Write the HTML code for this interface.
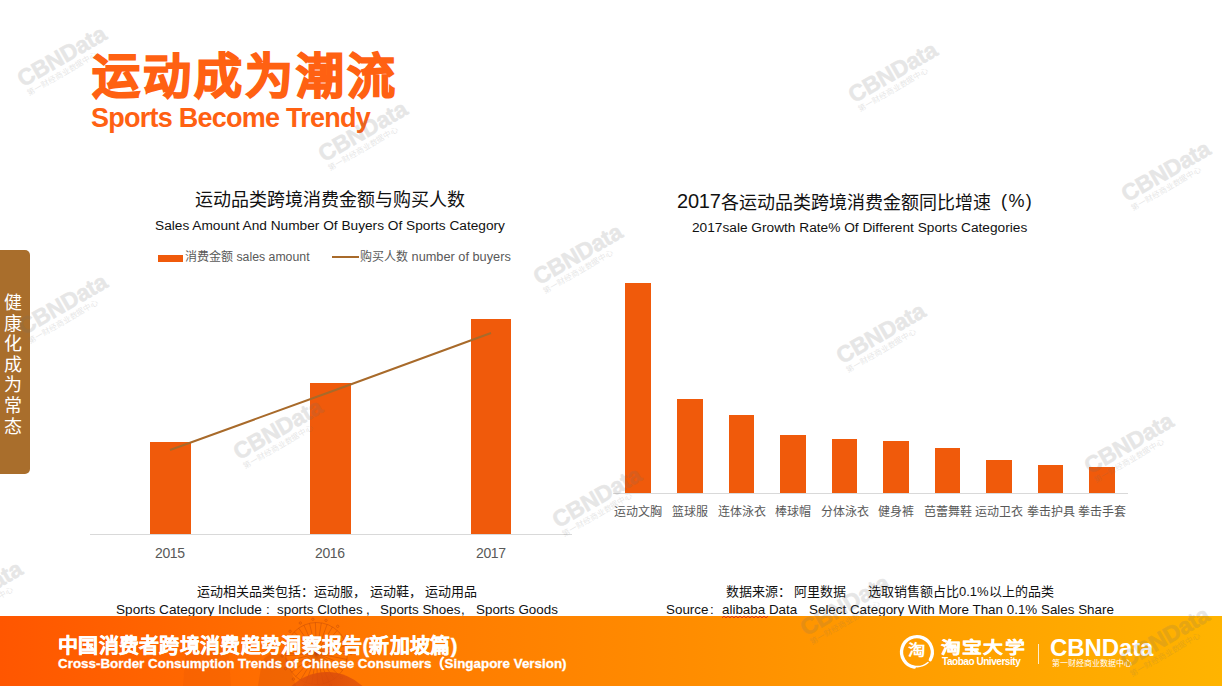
<!DOCTYPE html>
<html lang="zh-CN"><head><meta charset="utf-8">
<style>
*{margin:0;padding:0;box-sizing:border-box}
html,body{width:1222px;height:686px;overflow:hidden;background:#fff}
body{position:relative;font-family:"Liberation Sans",sans-serif;color:#000}
.a{position:absolute;white-space:nowrap}
.title-cn{left:92px;top:47px;font-size:48px;font-weight:bold;color:#FF6112;line-height:60px;letter-spacing:3px;-webkit-text-stroke:1.6px #FF6112}
.title-en{left:91px;top:103px;font-size:27px;font-weight:bold;color:#FF6112;line-height:30px;letter-spacing:-0.75px}
.side{left:0;top:250px;width:30px;height:224px;background:#A96E2C;border-radius:0 5px 5px 0}
.side-t{left:3px;top:293px;width:19px;font-size:18px;line-height:20.6px;color:#fff;white-space:normal;text-align:center}
.bar{position:absolute;background:#F05A0B}
.ct{font-size:18px;color:#111;line-height:22px}
.cs{font-size:13.7px;color:#111;line-height:16px}
.lg{font-size:12px;color:#595959;line-height:16px}
.yr{font-size:14px;color:#595959;line-height:16px;letter-spacing:-0.4px}
.cat{font-size:12px;color:#595959;line-height:16px;width:80px;text-align:center}
.note{font-size:13px;color:#111;line-height:16px}
.ne{font-size:13.4px;color:#111;line-height:16px}
.footer{left:0;top:616px;width:1222px;height:70px;background:linear-gradient(90deg,#FF5600 0%,#FF7700 30%,#FF8F00 59%,#FFB400 100%);overflow:hidden}
.f-cn{left:58px;top:634px;font-size:20px;letter-spacing:0.3px;font-weight:bold;color:#fff;line-height:24px;-webkit-text-stroke:0.4px #fff}
.f-en{left:58px;top:656px;font-size:13.4px;font-weight:bold;color:#fff;line-height:15px;-webkit-text-stroke:0.3px #fff}
.wm{position:absolute;width:0;height:0;transform:rotate(-30deg);opacity:0.17}
.wm .w1{position:absolute;left:-49px;top:-14px;width:100px;font-size:23px;font-weight:bold;line-height:26px;color:#6e6e6e;-webkit-text-stroke:0.6px #6e6e6e;letter-spacing:-0.2px}
.wm .w2{position:absolute;left:-48px;top:9.5px;width:90px;font-size:7.8px;line-height:10px;color:#6e6e6e;white-space:nowrap}
</style></head>
<body>

<div class="a title-cn">运动成为潮流</div>
<div class="a title-en">Sports Become Trendy</div>

<div class="a side"></div>
<div class="a side-t">健康化成为常态</div>

<!-- left chart -->
<div class="a ct" style="left:195px;top:189px">运动品类跨境消费金额与购买人数</div>
<div class="a cs" style="left:155px;top:218px">Sales Amount And Number Of Buyers Of Sports Category</div>
<div class="a" style="left:158px;top:255px;width:25px;height:7px;background:#F05A0B"></div>
<div class="a lg" style="left:185px;top:249px">消费金额<span style="font-size:12.3px"> sales amount</span></div>
<div class="a" style="left:332px;top:256px;width:27px;height:2px;background:#A86A2A"></div>
<div class="a lg" style="left:360px;top:249px">购买人数<span style="font-size:12.75px"> number of buyers</span></div>

<div class="a" style="left:90px;top:534px;width:482px;height:1px;background:#D9D9D9"></div>
<div class="bar" style="left:150px;top:442px;width:41px;height:92px"></div>
<div class="bar" style="left:310px;top:383px;width:41px;height:151px"></div>
<div class="bar" style="left:471px;top:319px;width:40px;height:215px"></div>
<svg class="a" style="left:0;top:0" width="1222" height="686"><polyline points="170,450 330,392 491,333" fill="none" stroke="#A86A2A" stroke-width="2"/></svg>
<div class="a yr" style="left:155px;top:545px">2015</div>
<div class="a yr" style="left:315px;top:545px">2016</div>
<div class="a yr" style="left:476px;top:545px">2017</div>

<div class="a note" style="left:197px;top:584px">运动相关品类包括：运动服， 运动鞋， 运动用品</div>
<div class="a ne" style="left:116px;top:602px;font-size:13.6px">Sports Category Include</div>
<div class="a ne" style="left:266px;top:602px">:</div>
<div class="a ne" style="left:277px;top:602px">sports Clothes</div>
<div class="a ne" style="left:366px;top:602px">,</div>
<div class="a ne" style="left:380px;top:602px">Sports Shoes</div>
<div class="a ne" style="left:461px;top:602px">,</div>
<div class="a ne" style="left:476px;top:602px">Sports Goods</div>

<!-- right chart -->
<div class="a ct" style="left:677px;top:190px;font-size:20px;letter-spacing:-0.2px">2017</div>
<div class="a ct" style="left:721px;top:192px">各运动品类跨境消费金额同比增速</div>
<div class="a ct" style="left:1001px;top:190px;letter-spacing:1.4px">(%)</div>
<div class="a cs" style="left:692px;top:220px">2017sale Growth Rate% Of Different Sports Categories</div>
<div class="a" style="left:613px;top:493px;width:515px;height:1px;background:#D9D9D9"></div>
<div class="bar" style="left:625px;top:283px;width:26px;height:210px"></div>
<div class="bar" style="left:677px;top:399px;width:26px;height:94px"></div>
<div class="bar" style="left:729px;top:415px;width:25px;height:78px"></div>
<div class="bar" style="left:780px;top:435px;width:26px;height:58px"></div>
<div class="bar" style="left:832px;top:439px;width:25px;height:54px"></div>
<div class="bar" style="left:883px;top:441px;width:26px;height:52px"></div>
<div class="bar" style="left:935px;top:448px;width:25px;height:45px"></div>
<div class="bar" style="left:986px;top:460px;width:26px;height:33px"></div>
<div class="bar" style="left:1038px;top:465px;width:25px;height:28px"></div>
<div class="bar" style="left:1089px;top:467px;width:26px;height:26px"></div>

<div class="a cat" style="left:598px;top:504px">运动文胸</div>
<div class="a cat" style="left:650px;top:504px">篮球服</div>
<div class="a cat" style="left:701.5px;top:504px">连体泳衣</div>
<div class="a cat" style="left:753px;top:504px">棒球帽</div>
<div class="a cat" style="left:804.5px;top:504px">分体泳衣</div>
<div class="a cat" style="left:856px;top:504px">健身裤</div>
<div class="a cat" style="left:907.5px;top:504px">芭蕾舞鞋</div>
<div class="a cat" style="left:959px;top:504px">运动卫衣</div>
<div class="a cat" style="left:1010.5px;top:504px">拳击护具</div>
<div class="a cat" style="left:1062px;top:504px">拳击手套</div>

<div class="a note" style="left:726px;top:584px">数据来源：</div>
<div class="a note" style="left:794px;top:584px">阿里数据</div>
<div class="a note" style="left:868px;top:584px">选取销售额占比0.1%以上的品类</div>
<div class="a ne" style="left:666px;top:602px">Source</div>
<div class="a ne" style="left:710px;top:602px">:</div>
<div class="a ne" style="left:722px;top:602px">alibaba Data</div>
<div class="a ne" style="left:809px;top:602px">Select Category With More Than 0.1% Sales Share</div>


<!-- footer -->
<div class="a footer"></div>
<svg class="a" style="left:0;top:616px" width="620" height="70" viewBox="0 616 620 70">
<g fill="none" stroke="#B8440A" stroke-opacity="0.5" stroke-width="0.8">
<circle cx="316.5" cy="653.5" r="31"/>
<line x1="347.5" y1="653.5" x2="285.5" y2="653.5"/><line x1="346.9" y1="659.4" x2="286.1" y2="647.6"/><line x1="345.2" y1="665.1" x2="287.8" y2="641.9"/><line x1="342.5" y1="670.4" x2="290.5" y2="636.6"/><line x1="338.8" y1="675.0" x2="294.2" y2="632.0"/><line x1="334.3" y1="678.9" x2="298.7" y2="628.1"/><line x1="329.1" y1="681.8" x2="303.9" y2="625.2"/><line x1="323.5" y1="683.7" x2="309.5" y2="623.3"/><line x1="317.6" y1="684.5" x2="315.4" y2="622.5"/><line x1="311.7" y1="684.1" x2="321.3" y2="622.9"/><line x1="305.9" y1="682.6" x2="327.1" y2="624.4"/><line x1="300.5" y1="680.1" x2="332.5" y2="626.9"/><line x1="295.8" y1="676.5" x2="337.2" y2="630.5"/><line x1="291.7" y1="672.2" x2="341.3" y2="634.8"/><line x1="288.6" y1="667.1" x2="344.4" y2="639.9"/><line x1="286.6" y1="661.5" x2="346.4" y2="645.5"/><line x1="285.6" y1="655.7" x2="347.4" y2="651.3"/>
<circle cx="351.0" cy="653.5" r="1.2"/><circle cx="348.5" cy="666.4" r="1.2"/><circle cx="341.3" cy="677.5" r="1.2"/><circle cx="330.5" cy="685.0" r="1.2"/><circle cx="317.7" cy="688.0" r="1.2"/><circle cx="304.7" cy="685.9" r="1.2"/><circle cx="293.4" cy="679.1" r="1.2"/><circle cx="285.5" cy="668.6" r="1.2"/><circle cx="282.1" cy="655.9" r="1.2"/><circle cx="283.7" cy="642.8" r="1.2"/><circle cx="290.1" cy="631.3" r="1.2"/><circle cx="300.3" cy="623.0" r="1.2"/><circle cx="312.9" cy="619.2" r="1.2"/><circle cx="326.0" cy="620.3" r="1.2"/><circle cx="337.7" cy="626.3" r="1.2"/><circle cx="346.4" cy="636.2" r="1.2"/><circle cx="350.7" cy="648.7" r="1.2"/>
</g>
<defs><radialGradient id="dome" cx="0.5" cy="0.1" r="0.9"><stop offset="0" stop-color="#D8480A"/><stop offset="0.5" stop-color="#E55A0C"/><stop offset="1" stop-color="#FF7A10"/></radialGradient></defs>
<circle cx="327" cy="724" r="52" fill="url(#dome)" fill-opacity="0.85"/>
<path d="M183,686 L186,648 L228,648 L231,686 Z" fill="#D04A08" fill-opacity="0.12"/>
<path d="M258,686 L262,662 C266,652 280,650 288,660 L296,686 Z" fill="#C84808" fill-opacity="0.25"/>
</svg>
<svg class="a" style="left:722px;top:614.5px" width="46" height="4"><polyline points="0,3 2,1 4,3 6,1 8,3 10,1 12,3 14,1 16,3 18,1 20,3 22,1 24,3 26,1 28,3 30,1 32,3 34,1 36,3 38,1 40,3 42,1 44,3 46,1" fill="none" stroke="#E0301E" stroke-width="1"/></svg>
<div class="a f-cn">中国消费者跨境消费趋势洞察报告(新加坡篇)</div>
<div class="a f-en">Cross-Border Consumption Trends of Chinese Consumers（Singapore Version)</div>


<!-- logos -->
<svg class="a" style="left:898px;top:633px" width="40" height="40" viewBox="0 0 40 40">
<path d="M32.3,26.7 A15.4,15.4 0 1 0 16.3,34.2" fill="none" stroke="#fff" stroke-width="3.3" stroke-linecap="round"/>
<path d="M17.5,33.5 C22,34 27,32 30,29.5" fill="none" stroke="#fff" stroke-width="1.6" stroke-linecap="round"/>
</svg>
<div class="a" style="left:908px;top:642px;font-size:14.5px;line-height:16px;color:#fff;font-weight:bold;transform:scaleX(1.2);transform-origin:0 0">淘</div>
<div class="a" style="left:941px;top:638.5px;font-size:15.5px;line-height:18px;color:#fff;font-weight:bold;letter-spacing:0.6px;transform:scaleX(1.28);transform-origin:0 0;-webkit-text-stroke:0.3px #fff">淘宝大学</div>
<div class="a" style="left:942px;top:656px;font-size:10px;line-height:11px;color:#fff;font-weight:bold;letter-spacing:-0.45px">Taobao University</div>
<div class="a" style="left:1038px;top:644px;width:1px;height:20px;background:rgba(255,255,255,0.8)"></div>
<div class="a" style="left:1050px;top:635px;font-size:24px;line-height:26px;color:#fff;font-weight:bold;letter-spacing:-0.1px">CBNData</div>
<div class="a" style="left:1052px;top:659px;font-size:8px;line-height:9px;color:#fff">第一财经商业数据中心</div>
<!-- watermarks -->
<div class="wm" style="left:62px;top:57px"><div class="w1">CBNData</div><div class="w2">第一财经商业数据中心</div></div>
<div class="wm" style="left:363px;top:132px"><div class="w1">CBNData</div><div class="w2">第一财经商业数据中心</div></div>
<div class="wm" style="left:893px;top:73px"><div class="w1">CBNData</div><div class="w2">第一财经商业数据中心</div></div>
<div class="wm" style="left:1166px;top:172px"><div class="w1">CBNData</div><div class="w2">第一财经商业数据中心</div></div>
<div class="wm" style="left:578px;top:255px"><div class="w1">CBNData</div><div class="w2">第一财经商业数据中心</div></div>
<div class="wm" style="left:63px;top:305px"><div class="w1">CBNData</div><div class="w2">第一财经商业数据中心</div></div>
<div class="wm" style="left:881px;top:334px"><div class="w1">CBNData</div><div class="w2">第一财经商业数据中心</div></div>
<div class="wm" style="left:278px;top:430px"><div class="w1">CBNData</div><div class="w2">第一财经商业数据中心</div></div>
<div class="wm" style="left:1129px;top:444px"><div class="w1">CBNData</div><div class="w2">第一财经商业数据中心</div></div>
<div class="wm" style="left:597px;top:498px"><div class="w1">CBNData</div><div class="w2">第一财经商业数据中心</div></div>
<div class="wm" style="left:-22px;top:592px"><div class="w1">CBNData</div><div class="w2">第一财经商业数据中心</div></div>
<div class="wm" style="left:845px;top:606px"><div class="w1">CBNData</div><div class="w2">第一财经商业数据中心</div></div>
<div class="wm" style="left:1165px;top:638px"><div class="w1">CBNData</div><div class="w2">第一财经商业数据中心</div></div>
</body></html>
